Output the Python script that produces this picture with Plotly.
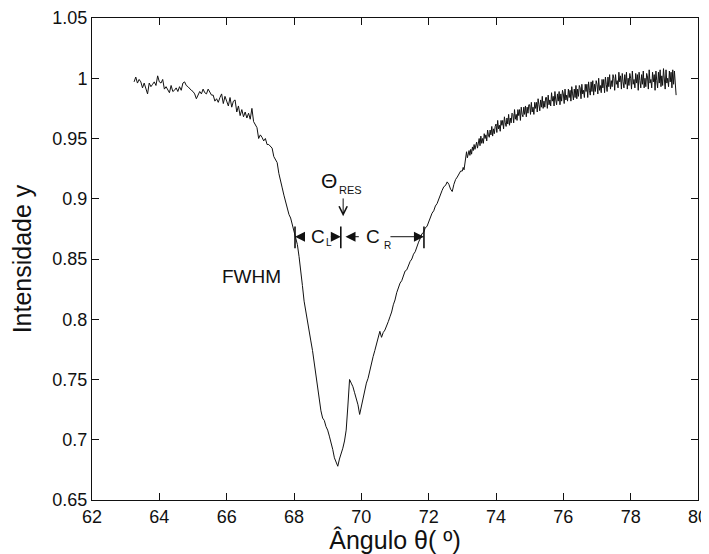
import numpy as np
import plotly.graph_objects as go

# ---------------- data ----------------
# coarse part of the scan: 63.25 .. 72.95 deg, every 0.05 deg
scan_a_start, scan_a_step = 63.25, 0.05
intensity_a = [
    0.997, 1.001, 0.996, 0.999, 0.997, 0.992, 0.996, 0.991, 0.987, 0.996,
    0.993, 0.995, 0.997, 0.994, 1.002, 0.997, 0.996, 0.999, 0.991, 0.993,
    0.991, 0.988, 0.994, 0.989, 0.990, 0.992, 0.989, 0.993, 0.990, 0.996,
    0.997, 0.994, 0.993, 0.991, 0.990, 0.989, 0.987, 0.983, 0.986, 0.989,
    0.987, 0.991, 0.988, 0.987, 0.991, 0.989, 0.986, 0.986, 0.981, 0.983,
    0.980, 0.984, 0.987, 0.979, 0.985, 0.981, 0.977, 0.984, 0.976, 0.981,
    0.982, 0.972, 0.977, 0.969, 0.974, 0.968, 0.972, 0.967, 0.971, 0.966,
    0.975, 0.964, 0.962, 0.959, 0.950, 0.953, 0.951, 0.948, 0.950, 0.945,
    0.945, 0.943, 0.942, 0.935, 0.933, 0.930, 0.921, 0.916, 0.909, 0.903,
    0.897, 0.893, 0.887, 0.884, 0.878, 0.874, 0.867, 0.862, 0.852, 0.842,
    0.828, 0.815, 0.806, 0.798, 0.790, 0.782, 0.774, 0.764, 0.752, 0.741,
    0.731, 0.724, 0.718, 0.716, 0.711, 0.708, 0.703, 0.698, 0.692, 0.685,
    0.681, 0.678, 0.684, 0.688, 0.693, 0.699, 0.708, 0.728, 0.750, 0.747,
    0.744, 0.739, 0.734, 0.729, 0.721, 0.728, 0.735, 0.741, 0.747, 0.751,
    0.758, 0.764, 0.769, 0.774, 0.780, 0.786, 0.790, 0.785, 0.789, 0.791,
    0.794, 0.798, 0.802, 0.806, 0.812, 0.816, 0.822, 0.826, 0.830, 0.832,
    0.836, 0.840, 0.841, 0.845, 0.848, 0.850, 0.854, 0.856, 0.861, 0.864,
    0.867, 0.871, 0.872, 0.876, 0.877, 0.881, 0.884, 0.888, 0.890, 0.894,
    0.896, 0.900, 0.903, 0.907, 0.910, 0.911, 0.914, 0.912, 0.908, 0.906,
    0.912, 0.916, 0.918, 0.921, 0.923,
]

# fine (noisy) part of the scan: 73.00 .. 79.35 deg, every 0.025 deg
scan_b_start, scan_b_step = 73.0, 0.025
intensity_b = [
    0.923, 0.926, 0.924, 0.929, 0.936, 0.939, 0.934, 0.937, 0.940, 0.936,
    0.941, 0.937, 0.943, 0.940, 0.945, 0.941, 0.944, 0.947, 0.942, 0.948,
    0.950, 0.944, 0.952, 0.946, 0.950, 0.946, 0.954, 0.950, 0.953, 0.948,
    0.957, 0.953, 0.951, 0.957, 0.953, 0.960, 0.952, 0.958, 0.954, 0.960,
    0.962, 0.955, 0.965, 0.958, 0.961, 0.956, 0.965, 0.961, 0.965, 0.958,
    0.968, 0.963, 0.960, 0.967, 0.962, 0.970, 0.961, 0.967, 0.963, 0.971,
    0.970, 0.963, 0.974, 0.966, 0.970, 0.965, 0.974, 0.969, 0.974, 0.965,
    0.976, 0.970, 0.968, 0.976, 0.970, 0.977, 0.968, 0.976, 0.971, 0.978,
    0.978, 0.970, 0.980, 0.972, 0.976, 0.970, 0.980, 0.975, 0.980, 0.972,
    0.983, 0.978, 0.973, 0.982, 0.976, 0.985, 0.975, 0.981, 0.976, 0.984,
    0.984, 0.975, 0.986, 0.978, 0.982, 0.977, 0.988, 0.981, 0.985, 0.977,
    0.989, 0.982, 0.978, 0.987, 0.981, 0.989, 0.978, 0.987, 0.981, 0.990,
    0.987, 0.979, 0.991, 0.982, 0.986, 0.981, 0.991, 0.984, 0.990, 0.981,
    0.993, 0.987, 0.982, 0.991, 0.984, 0.994, 0.983, 0.991, 0.985, 0.994,
    0.992, 0.983, 0.995, 0.987, 0.990, 0.984, 0.995, 0.989, 0.995, 0.984,
    0.997, 0.990, 0.986, 0.997, 0.989, 0.998, 0.986, 0.995, 0.989, 0.998,
    0.995, 0.987, 1.000, 0.990, 0.994, 0.988, 0.999, 0.992, 0.999, 0.988,
    1.001, 0.995, 0.989, 1.001, 0.993, 1.003, 0.991, 0.998, 0.993, 1.003,
    1.000, 0.990, 1.003, 0.995, 0.998, 0.992, 1.005, 0.997, 1.002, 0.991,
    1.004, 0.997, 0.992, 1.003, 0.995, 1.005, 0.991, 1.000, 0.994, 1.004,
    1.000, 0.991, 1.006, 0.995, 0.999, 0.992, 1.004, 0.996, 1.003, 0.990,
    1.005, 0.998, 0.992, 1.003, 0.995, 1.006, 0.992, 1.000, 0.993, 1.004,
    1.001, 0.991, 1.007, 0.996, 0.999, 0.992, 1.005, 0.997, 1.003, 0.990,
    1.006, 0.998, 0.992, 1.005, 0.996, 1.007, 0.993, 1.002, 0.994, 1.008,
    1.001, 0.991, 1.007, 0.996, 1.000, 0.993, 1.006, 0.997, 1.005, 0.992,
    1.007, 0.995, 1.006, 0.997, 0.986,
]

angles_a = np.round(scan_a_start + scan_a_step * np.arange(len(intensity_a)), 3)
angles_b = np.round(scan_b_start + scan_b_step * np.arange(len(intensity_b)), 3)
angles = np.concatenate([angles_a, angles_b])
intensity = intensity_a + intensity_b

x_ticks = [62, 64, 66, 68, 70, 72, 74, 76, 78, 80]
x_ticktext = ["62", "64", "66", "68", "70", "72", "74", "76", "78", "80"]
y_ticks = [0.65, 0.7, 0.75, 0.8, 0.85, 0.9, 0.95, 1.0, 1.05]
y_ticktext = ["0.65", "0.7", "0.75", "0.8", "0.85", "0.9", "0.95", "1", "1.05"]

# FWHM construction (angles in degrees, intensity level)
fwhm_left = 68.03
theta_res = 69.39
fwhm_right = 71.86
fwhm_level = 0.8685
bar_low, bar_high = 0.859, 0.877

# ---------------- figure ----------------
FONT = "Liberation Sans, Arial, Helvetica, sans-serif"
INK = "#111111"
fig = go.Figure()
fig.add_trace(go.Scatter(
    x=angles, y=intensity, mode="lines",
    line=dict(color=INK, width=1),
    showlegend=False, hoverinfo="skip",
))

shapes = []
for xb in (fwhm_left, theta_res, fwhm_right):
    shapes.append(dict(type="line", xref="x", yref="y", x0=xb, x1=xb,
                       y0=bar_low, y1=bar_high,
                       line=dict(color=INK, width=1.6)))

ann = []
def arrow(x_tip, x_tail, y, head=2, size=2.0):
    ann.append(dict(x=x_tip, y=y, ax=x_tail, ay=y, xref="x", yref="y",
                    axref="x", ayref="y", text="", showarrow=True,
                    arrowhead=head, arrowsize=size, arrowwidth=1,
                    arrowcolor=INK, standoff=0, startstandoff=0))

arrow(fwhm_left, 68.30, fwhm_level)
arrow(theta_res, 69.05, fwhm_level)
arrow(69.53, 69.97, fwhm_level)
arrow(fwhm_right, 70.82, fwhm_level)

# down arrow towards theta_res
ann.append(dict(x=69.46, y=0.8855, ax=69.46, ay=0.9015, xref="x", yref="y",
                axref="x", ayref="y", text="", showarrow=True,
                arrowhead=5, arrowsize=1.6, arrowwidth=1,
                arrowcolor=INK, standoff=0, startstandoff=0))

def label(x, y, text, size):
    ann.append(dict(x=x, y=y, xref="x", yref="y", text=text, showarrow=False,
                    xanchor="center", yanchor="middle",
                    font=dict(family=FONT, size=size, color=INK)))

label(68.72, fwhm_level, "C", 19)
label(69.04, 0.8633, "L", 10)
label(70.355, fwhm_level, "C", 19)
label(70.79, 0.8616, "R", 10)
label(69.05, 0.915, "Θ", 21)
label(69.69, 0.9075, "RES", 11)
label(66.74, 0.8356, "FWHM", 19)

axis_common = dict(
    showline=True, linecolor=INK, linewidth=1, mirror="ticks",
    ticks="inside", ticklen=7, tickwidth=1, tickcolor=INK,
    showgrid=False, zeroline=False, automargin=False,
    tickfont=dict(family=FONT, size=18, color=INK),
)

# the page body adds an 8 px offset, so the figure is 8 px smaller
fig.update_layout(
    width=701, height=546,
    margin=dict(l=84, r=11, t=10, b=54),
    paper_bgcolor="white", plot_bgcolor="white",
    shapes=shapes, annotations=ann,
    xaxis=dict(range=[62, 80], tickvals=x_ticks, ticktext=x_ticktext,
               title=dict(text="Ângulo θ( º)", standoff=4,
                          font=dict(family=FONT, size=25, color=INK)),
               **axis_common),
    yaxis=dict(range=[0.65, 1.05], tickvals=y_ticks, ticktext=y_ticktext,
               title=dict(text="Intensidade y", standoff=14,
                          font=dict(family=FONT, size=25, color=INK)),
               **axis_common),
)

fig.write_html(
    "out.html",
    post_script="document.documentElement.style.overflow='hidden';"
                "document.body.style.overflow='hidden';",
)
